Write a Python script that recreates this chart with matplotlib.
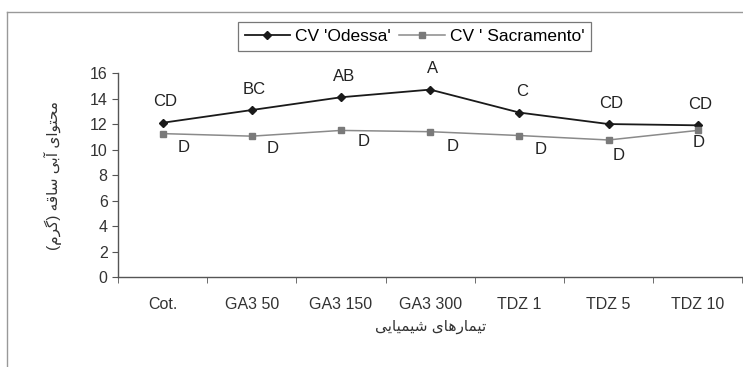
import numpy as np
import matplotlib
matplotlib.use('Agg')
import matplotlib.pyplot as plt
from matplotlib.lines import Line2D

# data
treatments = ['Cot.', 'GA3 50', 'GA3 150', 'GA3 300', 'TDZ 1', 'TDZ 5', 'TDZ 10']
odessa = [12.1, 13.1, 14.1, 14.7, 12.9, 12.0, 11.9]
sacramento = [11.25, 11.05, 11.5, 11.4, 11.1, 10.75, 11.5]
odessa_letters = ['CD', 'BC', 'AB', 'A', 'C', 'CD', 'CD']
sacramento_letters = ['D', 'D', 'D', 'D', 'D', 'D', 'D']
series_names = ["CV 'Odessa'", "CV ' Sacramento'"]
y_label = 'محتوای آبی ساقه (گرم)'
x_label = 'تیمارهای شیمیایی'
y_ticks = [0, 2, 4, 6, 8, 10, 12, 14, 16]

# simple persian shaping (matplotlib has no bidi / joining)
FORMS = {
    'ا': ('\uFE8D', '\uFE8E', None, None),
    'آ': ('\uFE81', '\uFE82', None, None),
    'ر': ('\uFEAD', '\uFEAE', None, None),
    'و': ('\uFEED', '\uFEEE', None, None),
    'ب': ('\uFE8F', '\uFE90', '\uFE91', '\uFE92'),
    'ت': ('\uFE95', '\uFE96', '\uFE97', '\uFE98'),
    'ح': ('\uFEA1', '\uFEA2', '\uFEA3', '\uFEA4'),
    'س': ('\uFEB1', '\uFEB2', '\uFEB3', '\uFEB4'),
    'ش': ('\uFEB5', '\uFEB6', '\uFEB7', '\uFEB8'),
    'ق': ('\uFED5', '\uFED6', '\uFED7', '\uFED8'),
    'م': ('\uFEE1', '\uFEE2', '\uFEE3', '\uFEE4'),
    'ه': ('\uFEE9', '\uFEEA', '\uFEEB', '\uFEEC'),
    'ی': ('\uFBFC', '\uFBFD', '\uFBFE', '\uFBFF'),
    'گ': ('\uFB92', '\uFB93', '\uFB94', '\uFB95'),
}


def shape(txt):
    out = []
    for i, ch in enumerate(txt):
        if ch not in FORMS:
            out.append(ch)
            continue
        prev = txt[i - 1] if i > 0 else ''
        nxt = txt[i + 1] if i + 1 < len(txt) else ''
        join_prev = prev in FORMS and FORMS[prev][2] is not None
        join_next = nxt in FORMS and FORMS[ch][2] is not None
        iso, fin, ini, med = FORMS[ch]
        if join_prev and join_next:
            out.append(med)
        elif join_prev:
            out.append(fin)
        elif join_next:
            out.append(ini)
        else:
            out.append(iso)
    s = ''.join(reversed(out))
    return s.translate(str.maketrans('()', ')('))


plt.rcParams['font.family'] = ['Liberation Sans', 'DejaVu Sans']

fig = plt.figure(figsize=(7.43, 3.67), dpi=100)
ax = fig.add_axes([0.159, 0.245, 0.84, 0.556])

x = np.arange(len(treatments))
ax.plot(x, odessa, color='#1a1a1a', lw=1.3, marker='D', ms=4.5,
        mfc='#1a1a1a', mec='#1a1a1a', label=series_names[0])
ax.plot(x, sacramento, color='#8a8a8a', lw=1.1, marker='s', ms=5,
        mfc='#7a7a7a', mec='#7a7a7a', label=series_names[1])

for xi, v, t in zip(x, odessa, odessa_letters):
    ax.annotate(t, (xi, v), xytext=(2, 15), textcoords='offset points',
                ha='center', va='center', fontsize=12, color='#222222')
d_offsets = [(15, -10), (15, -9), (16, -8), (16, -11), (15, -10), (7, -11), (1, -9)]
for xi, v, t, off in zip(x, sacramento, sacramento_letters, d_offsets):
    ax.annotate(t, (xi, v), xytext=off, textcoords='offset points',
                ha='center', va='center', fontsize=12, color='#222222')

ax.set_xlim(-0.5, len(treatments) - 0.5)
ax.set_ylim(0, 16)
ax.set_yticks(y_ticks)
ax.set_xticks(x)
ax.set_xticklabels(treatments)
ax.set_xticks(np.arange(len(treatments) + 1) - 0.5, minor=True)
ax.tick_params(axis='x', which='major', length=0, pad=14, labelsize=11.5, colors='#333333')
ax.tick_params(axis='x', which='minor', length=4, direction='out', color='#555555')
ax.tick_params(axis='y', length=4, direction='out', labelsize=11.5, colors='#333333', color='#555555')
for sp in ['top', 'right']:
    ax.spines[sp].set_visible(False)
for sp in ['left', 'bottom']:
    ax.spines[sp].set_color('#555555')
    ax.spines[sp].set_linewidth(1.0)

ax.set_ylabel(shape(y_label), fontsize=11, color='#333333', labelpad=20)
ax.set_xlabel(shape(x_label), fontsize=11, color='#333333', labelpad=6)

# outer frame (left and top edges only visible)
fig.add_artist(Line2D([0.0094, 0.0094], [0.0, 0.967], transform=fig.transFigure,
                      color='#999999', lw=1.0))
fig.add_artist(Line2D([0.0094, 1.0], [0.967, 0.967], transform=fig.transFigure,
                      color='#999999', lw=1.0))

leg = fig.legend(loc='center', bbox_to_anchor=(0.558, 0.901), ncol=2, fontsize=12.5,
                 frameon=True, fancybox=False, edgecolor='#555555', handlelength=2.6,
                 columnspacing=0.5, handletextpad=0.3, borderpad=0.4)
leg.get_frame().set_linewidth(0.9)

fig.savefig('out.png', dpi=100)
